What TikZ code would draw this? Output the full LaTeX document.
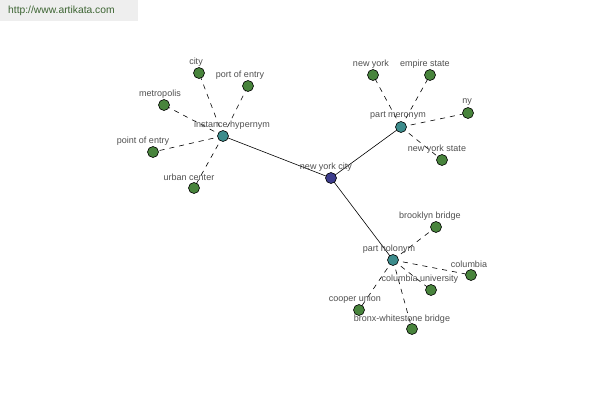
\documentclass[tikz,border=0pt]{standalone}
\usepackage{fontspec}
\setmainfont{Liberation Sans}
\begin{document}
\begin{tikzpicture}[x=1pt,y=-1pt,
  dot/.style={circle,draw=black,line width=0.6pt,inner sep=0pt,minimum size=11pt},
  leaf/.style={dot,fill=leafgreen},
  hub/.style={dot,fill=hubteal},
  centre/.style={dot,fill=centrenavy},
  lbl/.style={font=\fontsize{9}{10}\selectfont,text=textgray,inner sep=0pt},
  solidlink/.style={draw=black,line width=0.6pt},
  dashlink/.style={draw=black,line width=0.6pt,dash pattern=on 5pt off 5pt}]
\definecolor{leafgreen}{RGB}{72,132,60}
\definecolor{hubteal}{RGB}{60,140,140}
\definecolor{centrenavy}{RGB}{60,60,140}
\definecolor{textgray}{RGB}{80,80,80}
\definecolor{bannergray}{RGB}{238,238,238}
\definecolor{bannertext}{RGB}{60,100,50}
\useasboundingbox[fill=white] (0,0) rectangle (600,400);
\fill[bannergray] (0,0) rectangle (138,21);
\node[font=\fontsize{10.3}{12}\selectfont,text=bannertext,anchor=west,inner sep=0pt] (banner) at (8,11) {http://www.artikata.com};
% nodes
\coordinate (nyc) at (331,178);
\coordinate (ih) at (223,136);
\coordinate (pm) at (401,127);
\coordinate (ph) at (393,260);
\coordinate (city) at (199,73);
\coordinate (poe) at (248,86);
\coordinate (metro) at (164,105);
\coordinate (pointe) at (153,152);
\coordinate (urban) at (194,188);
\coordinate (ny1) at (373,75);
\coordinate (es) at (430,75);
\coordinate (ny) at (468,113);
\coordinate (nys) at (442,160);
\coordinate (bb) at (436,227);
\coordinate (col) at (471,275);
\coordinate (colu) at (431,290);
\coordinate (cu) at (359,310);
\coordinate (bwb) at (412,329);
% links
\draw[solidlink] (nyc) -- (ih);
\draw[solidlink] (nyc) -- (pm);
\draw[solidlink] (nyc) -- (ph);
\foreach \a in {city,poe,metro,pointe,urban}{\draw[dashlink] (ih) -- (\a);}
\foreach \a in {ny1,es,ny,nys}{\draw[dashlink] (pm) -- (\a);}
\foreach \a in {bb,col,colu,cu,bwb}{\draw[dashlink] (ph) -- (\a);}
% dots
\node[centre] (nycdot) at (nyc) {};
\node[hub] (ihdot) at (ih) {};
\node[hub] (pmdot) at (pm) {};
\node[hub] (phdot) at (ph) {};
\foreach \a in {city,poe,metro,pointe,urban,ny1,es,ny,nys,bb,col,colu,cu,bwb}{\node[leaf] (\a dot) at (\a) {};}
% labels
\node[lbl] (Lnyc) at (326,167) {new york city};
\node[lbl] (Lih) at (232,125) {instance hypernym};
\node[lbl] (Lpm) at (398,116) {part meronym};
\node[lbl] (Lph) at (389,249) {part holonym};
\node[lbl] (Lcity) at (196,62) {city};
\node[lbl] (Lpoe) at (240,75) {port of entry};
\node[lbl] (Lmetro) at (160,94) {metropolis};
\node[lbl] (Lpointe) at (143,141) {point of entry};
\node[lbl] (Lurban) at (189,177) {urban center};
\node[lbl] (Lny1) at (371,64) {new york};
\node[lbl] (Les) at (425,64) {empire state};
\node[lbl] (Lny) at (467,102) {ny};
\node[lbl] (Lnys) at (437,149) {new york state};
\node[lbl] (Lbb) at (430,216) {brooklyn bridge};
\node[lbl] (Lcol) at (469,264) {columbia};
\node[lbl] (Lcolu) at (420,279) {columbia university};
\node[lbl] (Lcu) at (355,299) {cooper union};
\node[lbl] (Lbwb) at (402,319) {bronx-whitestone bridge};
\end{tikzpicture}
\end{document}
